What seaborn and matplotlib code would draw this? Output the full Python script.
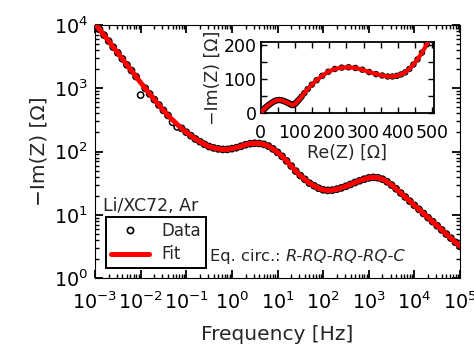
import matplotlib
matplotlib.use("Agg")
import matplotlib.pyplot as plt
import seaborn as sns
import numpy as np
from matplotlib.lines import Line2D
from matplotlib.ticker import LogLocator, MultipleLocator, NullFormatter

# ---------------- data ----------------
freq_hz = [
    1.00e-3, 1.26e-3, 1.58e-3, 2.00e-3, 2.51e-3, 3.16e-3, 3.98e-3, 5.01e-3, 6.31e-3, 7.94e-3,
    1.00e-2, 1.26e-2, 1.58e-2, 2.00e-2, 2.51e-2, 3.16e-2, 3.98e-2, 5.01e-2, 6.31e-2, 7.94e-2,
    1.00e-1, 1.26e-1, 1.58e-1, 2.00e-1, 2.51e-1, 3.16e-1, 3.98e-1, 5.01e-1, 6.31e-1, 7.94e-1,
    1.00e0, 1.26e0, 1.58e0, 2.00e0, 2.51e0, 3.16e0, 3.98e0, 5.01e0, 6.31e0, 7.94e0,
    1.00e1, 1.26e1, 1.58e1, 2.00e1, 2.51e1, 3.16e1, 3.98e1, 5.01e1, 6.31e1, 7.94e1,
    1.00e2, 1.26e2, 1.58e2, 2.00e2, 2.51e2, 3.16e2, 3.98e2, 5.01e2, 6.31e2, 7.94e2,
    1.00e3, 1.26e3, 1.58e3, 2.00e3, 2.51e3, 3.16e3, 3.98e3, 5.01e3, 6.31e3, 7.94e3,
    1.00e4, 1.26e4, 1.58e4, 2.00e4, 2.51e4, 3.16e4, 3.98e4, 5.01e4, 6.31e4, 7.94e4,
    1.00e5,
]
# -Im(Z) of the fit [Ohm]
im_fit = [
    10500, 8510, 6920, 5560, 4470, 3630, 2920, 2340, 1905, 1530,
    1230, 1000, 813, 661, 543, 447, 372, 316, 269, 232,
    202, 178, 158, 143, 130, 120, 114, 110, 108, 108,
    111, 115, 121, 128, 133, 135, 134, 130, 122, 110,
    97, 84, 71, 59, 49, 41.7, 36.3, 31.6, 28.8, 26.3,
    24.8, 24.3, 24.5, 25.4, 26.6, 28.2, 30.2, 32.4, 34.5, 36.5,
    38.3, 39.0, 38.5, 36.5, 33.3, 29.5, 25.7, 22.1, 19.1, 16.4,
    14.1, 12.2, 10.5, 9.0, 7.8, 6.7, 5.75, 4.95, 4.27, 3.67,
    3.16,
]
# Re(Z) of the fit [Ohm]
re_fit = [
    620, 619, 618, 617, 615, 613, 611, 608, 604, 599,
    592, 586, 579, 571, 562, 552, 540, 527, 513, 498,
    484, 470, 457, 445, 433, 421, 409, 397, 384, 370,
    354, 336, 316, 296, 276, 256, 236, 216, 197, 179,
    163, 149, 137, 127, 119, 113, 108, 104, 101, 98,
    96, 94, 92, 90, 87, 84, 80, 76, 71, 66,
    60, 54, 48, 42, 36, 30, 25, 20.5, 16.8, 13.8,
    11.4, 9.4, 7.8, 6.5, 5.4, 4.5, 3.8, 3.2, 2.7, 2.3,
    2.0,
]
# measured points that sit visibly off the fit
dev_freq = [1.00e-2, 5.01e-2, 6.31e-2]
dev_im = [780, 290, 245]

im_data = list(im_fit)
for f, v in zip(dev_freq, dev_im):
    im_data[freq_hz.index(f)] = v
re_data = list(re_fit)

# ---------------- style ----------------
sns.set_style("ticks", {
    "xtick.direction": "in", "ytick.direction": "in",
    "axes.edgecolor": "black", "axes.linewidth": 1.6,
    "xtick.color": "black", "ytick.color": "black",
    "xtick.top": True, "ytick.right": True,
})
plt.rcParams["font.family"] = ["DejaVu Sans"]
plt.rcParams["mathtext.default"] = "regular"

fig = plt.figure(figsize=(4.74, 3.46), dpi=100)
ax = fig.add_axes([0.2004, 0.1965, 0.7701, 0.7312])

sns.scatterplot(x=freq_hz, y=im_data, ax=ax, marker="o", s=20,
                facecolor="none", edgecolor="black", linewidth=1.1, zorder=2)
sns.lineplot(x=freq_hz, y=im_fit, ax=ax, color="red", linewidth=3.6,
             estimator=None, sort=False, zorder=3)

ax.set_xscale("log")
ax.set_yscale("log")
ax.set_xlim(1e-3, 1e5)
ax.set_ylim(1, 1e4)
ax.xaxis.set_major_locator(LogLocator(base=10, numticks=20))
ax.xaxis.set_minor_locator(LogLocator(base=10, subs=np.arange(2, 10) * 1.0, numticks=20))
ax.xaxis.set_minor_formatter(NullFormatter())
ax.yaxis.set_major_locator(LogLocator(base=10, numticks=20))
ax.yaxis.set_minor_locator(LogLocator(base=10, subs=np.arange(2, 10) * 1.0, numticks=20))
ax.yaxis.set_minor_formatter(NullFormatter())
ax.tick_params(which="major", length=6, width=1.3, labelsize=13.8,
               top=True, right=True, direction="in")
ax.tick_params(axis="x", which="major", pad=10)
ax.tick_params(axis="y", which="major", pad=5)
ax.tick_params(which="minor", length=3.2, width=1.0, top=True, right=True, direction="in")
ax.set_xlabel("Frequency [Hz]", fontsize=14.5, labelpad=8)
ax.set_ylabel("\u2212Im(Z) [\u03a9]", fontsize=14.5, labelpad=4)

ax.text(0.022, 0.265, "Li/XC72, Ar", transform=ax.transAxes, fontsize=12.5,
        va="baseline", ha="left")
t1 = ax.text(0.315, 0.068, "Eq. circ.:", transform=ax.transAxes, fontsize=11.8,
             va="baseline", ha="left")
ax.annotate("R-RQ-RQ-RQ-C", xy=(1, 0), xycoords=t1, xytext=(3.5, 0),
            textcoords="offset points", fontsize=11.8, style="italic",
            va="bottom", ha="left")

handles = [
    Line2D([], [], linestyle="none", marker="o", markersize=4.5,
           markerfacecolor="none", markeredgecolor="black", markeredgewidth=1.2),
    Line2D([], [], color="red", linewidth=3.6),
]
leg = ax.legend(handles, ["Data", "Fit"], loc="lower left",
                bbox_to_anchor=(0.03, 0.038), borderaxespad=0, fontsize=12,
                frameon=True, fancybox=False, framealpha=1, edgecolor="black",
                handlelength=2.3, handletextpad=0.7, borderpad=0.3,
                labelspacing=0.35)
leg.get_frame().set_linewidth(1.4)

# ---------------- inset (Nyquist) ----------------
axi = fig.add_axes([0.550, 0.6725, 0.3656, 0.207])
sns.scatterplot(x=re_data, y=im_data, ax=axi, marker="o", s=14,
                facecolor="none", edgecolor="black", linewidth=0.9, zorder=2)
sns.lineplot(x=re_fit, y=im_fit, ax=axi, color="red", linewidth=3.0,
             estimator=None, sort=False, zorder=3)
axi.set_xlim(0, 505)
axi.set_ylim(0, 210)
axi.xaxis.set_major_locator(MultipleLocator(100))
axi.xaxis.set_minor_locator(MultipleLocator(50))
axi.yaxis.set_major_locator(MultipleLocator(100))
axi.yaxis.set_minor_locator(MultipleLocator(50))
for s in axi.spines.values():
    s.set_linewidth(1.3)
axi.tick_params(which="both", direction="in", top=True, right=True,
                length=4, width=1.0, labelsize=12.5)
axi.tick_params(axis="x", which="major", pad=8)
axi.tick_params(axis="y", which="major", pad=3)
axi.set_xlabel("Re(Z) [\u03a9]", fontsize=12.5, labelpad=1)
axi.set_ylabel("\u2212Im(Z) [\u03a9]", fontsize=12.5, labelpad=1)

fig.savefig("out.png", dpi=100)
